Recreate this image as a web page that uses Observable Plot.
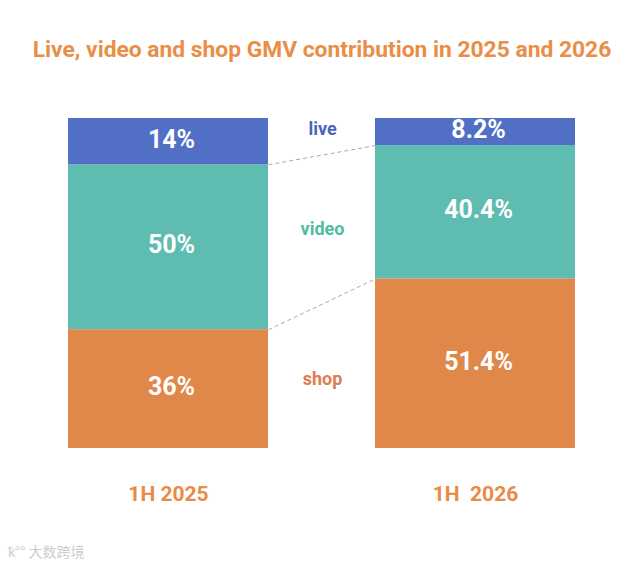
<!DOCTYPE html>
<html>
<head>
<meta charset="utf-8">
<script src="https://cdn.jsdelivr.net/npm/d3@7"></script>
<script src="https://cdn.jsdelivr.net/npm/@observablehq/plot@0.6"></script>
<style>
  body { margin: 0; background: #fff; width: 644px; height: 564px; position: relative; overflow: hidden; font-family: Roboto, "Noto Sans", sans-serif; }
  #title { height: 80px; box-sizing: border-box; padding-top: 38px; line-height: 24px; text-align: center; font-size: 22.8px; font-weight: 700; color: #e98d47; white-space: nowrap; }
  #chart svg { display: block; white-space: pre; }
  #wm { position: absolute; left: 8px; top: 541px; font-size: 14px; color: #cdcdcd; font-family: "Noto Sans CJK SC", sans-serif; }
</style>
</head>
<body>
<div id="title">Live, video and shop GMV contribution in 2025 and 2026</div>
<div id="chart"></div>
<div id="wm">ꝁ°° 大数跨境</div>
<script>
// ---- data ----
const periods = ["1H 2025", "1H  2026"];
const segments = ["shop", "video", "live"];       // stacking order, bottom to top
const shop = [36, 51.4];
const video = [50, 40.4];
const live = [14, 8.2];
const valueLabels = { shop: ["36%", "51.4%"], video: ["50%", "40.4%"], live: ["14%", "8.2%"] };

// ---- styles ----
const fillColors = { live: "#5170c5", video: "#5ebdb0", shop: "#e0874a" };
const nameColors = { live: "#4a64bd", video: "#50bca2", shop: "#e27b50" };
const series = { shop, video, live };

const rows = [];
periods.forEach((p, i) => {
  segments.forEach(s => rows.push({ period: p, segment: s, value: series[s][i], label: valueLabels[s][i] }));
});

// boundaries between segments (cumulative), for the dashed connectors
const connectors = [
  { a: shop[0] + video[0], b: shop[1] + video[1] },
  { a: shop[0], b: shop[1] }
];

// segment name labels placed between the bars, at the mean of both segment midpoints
const names = segments.map(s => {
  const mids = periods.map((p, i) => {
    let base = 0;
    for (const t of segments) { if (t === s) break; base += series[t][i]; }
    return base + series[s][i] / 2;
  });
  return { segment: s, y: d3.mean(mids) };
});
const nameDy = { live: -8, video: 0, shop: 3 };

const plot = Plot.plot({
  width: 644,
  height: 484,
  marginTop: 0, marginBottom: 0, marginLeft: 0, marginRight: 0,
  x: { domain: periods, range: [67, 575], paddingInner: 0.35, paddingOuter: 0, axis: null },
  y: { domain: [0, 100], range: [368, 38], axis: null },
  style: { fontFamily: "Roboto, 'Noto Sans', sans-serif", background: "white" },
  marks: [
    Plot.barY(rows, Plot.stackY({
      x: "period", y: "value", z: "segment", order: segments,
      fill: d => fillColors[d.segment], inset: 0
    })),
    Plot.link(connectors, {
      x1: () => periods[0], x2: () => periods[1], y1: "a", y2: "b",
      stroke: "#a9a9a9", strokeWidth: 1, strokeDasharray: "4,3",
      render(index, scales, values, dimensions, context, next) {
        const bw = scales.x.bandwidth ? scales.x.bandwidth() : 0;
        const x1 = Float64Array.from(values.x1, v => v + bw / 2);
        const x2 = Float64Array.from(values.x2, v => v - bw / 2);
        return next(index, scales, { ...values, x1, x2 }, dimensions, context);
      }
    }),
    Plot.text(rows, Plot.stackY({
      x: "period", y: "value", z: "segment", order: segments,
      text: "label", fill: "white", fontSize: 25, fontWeight: 700, dx: 3, dy: -2
    })),
    ...segments.map(s => Plot.text(names.filter(d => d.segment === s), {
      y: "y", text: "segment", frameAnchor: "middle", dy: nameDy[s],
      fill: nameColors[s], fontSize: 18, fontWeight: 700
    })),
    Plot.text(periods, {
      x: d => d, y: () => 0, text: d => d, dy: 46,
      fill: "#e98b47", fontSize: 21, fontWeight: 700
    })
  ]
});
document.getElementById("chart").appendChild(plot);
</script>
</body>
</html>
